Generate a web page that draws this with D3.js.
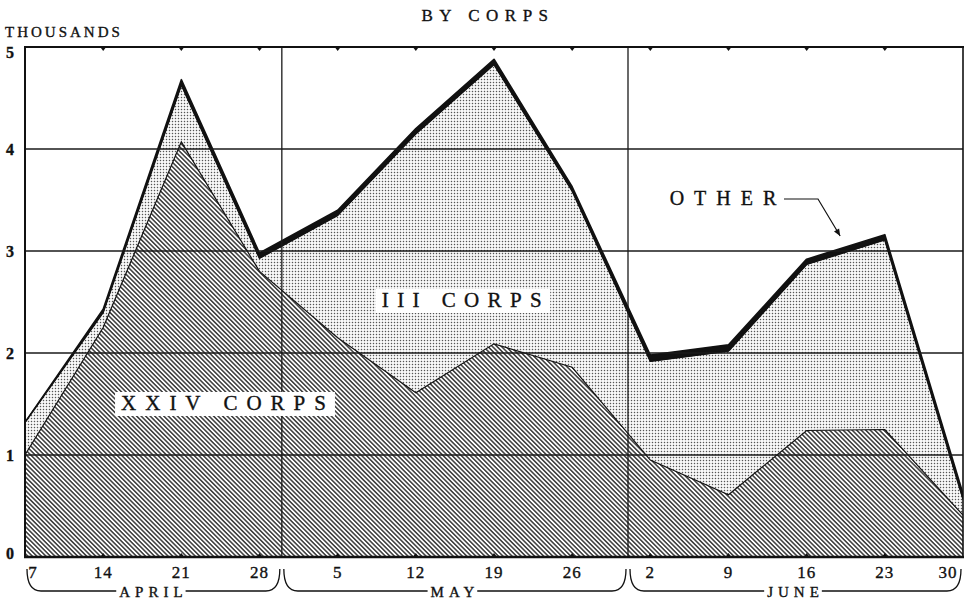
<!DOCTYPE html>
<html>
<head>
<meta charset="utf-8">
<script src="https://cdn.jsdelivr.net/npm/d3@7"></script>
<style>
  body { margin: 0; background: #fff; }
  svg { display: block; }
  text { font-family: "Liberation Serif", "DejaVu Serif", serif; fill: #111; stroke: #111; stroke-width: 0.35px; }
</style>
</head>
<body>
<svg id="chart" width="969" height="603"></svg>
<script>
// Weekly casualties (thousands), Okinawa, April–June 1945
const weeks = ["1945-04-07","1945-04-14","1945-04-21","1945-04-28","1945-05-05","1945-05-12",
               "1945-05-19","1945-05-26","1945-06-02","1945-06-09","1945-06-16","1945-06-23","1945-06-30"];
const weekLabels = ["7","14","21","28","5","12","19","26","2","9","16","23","30"];
const xxivCorps  = [1.00, 2.25, 4.07, 2.80, 2.15, 1.61, 2.09, 1.86, 0.95, 0.61, 1.24, 1.25, 0.41];
const iiiCorps   = [0.32, 0.15, 0.56, 0.13, 1.20, 2.54, 2.74, 1.73, 0.97, 1.41, 1.63, 1.86, 0.16];
const otherUnits = [0.00, 0.03, 0.05, 0.05, 0.05, 0.05, 0.05, 0.04, 0.06, 0.06, 0.05, 0.05, 0.05];
const yTicks = [0, 1, 2, 3, 4, 5];
const gridValues = [1, 2, 3, 4];
const monthNames = ["APRIL", "MAY", "JUNE"];
const monthBreaks = ["1945-04-30", "1945-05-31"];

const parse = d3.timeParse("%Y-%m-%d");
const dates = weeks.map(parse);
const table = dates.map((date, i) => ({
  date, xxiv: xxivCorps[i], iii: iiiCorps[i], other: otherUnits[i]
}));

const svg = d3.select("#chart");
const plotL = 25, plotR = 963, plotT = 47, plotB = 557;

const x = d3.scaleTime().domain([dates[0], dates[dates.length - 1]]).range([plotL, plotR]);
const y = d3.scaleLinear().domain([0, 5]).range([plotB, plotT]);

// fill patterns: diagonal hatching and a fine dot screen
const defs = svg.append("defs");
const hatch = defs.append("pattern")
  .attr("id", "hatch").attr("patternUnits", "userSpaceOnUse")
  .attr("width", 3.2).attr("height", 3.2)
  .attr("patternTransform", "rotate(-45)");
hatch.append("rect").attr("width", 3.2).attr("height", 3.2).attr("fill", "#fff");
hatch.append("line").attr("x1", 0.8).attr("y1", 0).attr("x2", 0.8).attr("y2", 3.2)
  .attr("stroke", "#222").attr("stroke-width", 1.35);

const dots = defs.append("pattern")
  .attr("id", "dots").attr("patternUnits", "userSpaceOnUse")
  .attr("width", 3).attr("height", 3);
dots.append("rect").attr("width", 3).attr("height", 3).attr("fill", "#fff");
dots.append("rect").attr("x", 0.8).attr("y", 0.8).attr("width", 1.4).attr("height", 1.4).attr("fill", "#555");

const clip = defs.append("clipPath").attr("id", "plotClip");
clip.append("rect").attr("x", plotL).attr("y", plotT - 5).attr("width", plotR - plotL).attr("height", plotB - plotT + 5);

// stacked layers
const stack = d3.stack().keys(["xxiv", "iii", "other"]);
const layers = stack(table);

const area = d3.area()
  .x(d => x(d.data.date))
  .y0(d => y(d[0]))
  .y1(d => y(d[1]));
const topLine = d3.line()
  .x(d => x(d.data.date))
  .y(d => y(d[1]));

const plot = svg.append("g").attr("clip-path", "url(#plotClip)");
plot.append("path").datum(layers[0]).attr("d", area).attr("fill", "url(#hatch)");
plot.append("path").datum(layers[1]).attr("d", area).attr("fill", "url(#dots)");
plot.append("path").datum(layers[0]).attr("d", topLine)
  .attr("fill", "none").attr("stroke", "#111").attr("stroke-width", 1.2);
plot.append("path").datum(layers[1]).attr("d", topLine)
  .attr("fill", "none").attr("stroke", "#111").attr("stroke-width", 1.2);
plot.append("path").datum(layers[2]).attr("d", area)
  .attr("fill", "#111").attr("stroke", "#111").attr("stroke-width", 1.6)
  .attr("stroke-linejoin", "round");

// grid
const grid = svg.append("g").attr("stroke", "#1a1a1a").attr("stroke-width", 1.3);
grid.selectAll("line.h").data(gridValues).join("line").attr("class", "h")
  .attr("x1", plotL).attr("x2", plotR)
  .attr("y1", d => y(d)).attr("y2", d => y(d));
grid.selectAll("line.v").data(monthBreaks.map(parse)).join("line").attr("class", "v")
  .attr("x1", d => x(d)).attr("x2", d => x(d))
  .attr("y1", plotT).attr("y2", plotB);

// frame
svg.append("line").attr("x1", plotL).attr("x2", plotL).attr("y1", plotT).attr("y2", plotB)
  .attr("stroke", "#111").attr("stroke-width", 2);
svg.append("line").attr("x1", plotR).attr("x2", plotR).attr("y1", plotT).attr("y2", plotB)
  .attr("stroke", "#111").attr("stroke-width", 1.6);
svg.append("line").attr("x1", plotL - 1).attr("x2", plotR + 1).attr("y1", plotT).attr("y2", plotT)
  .attr("stroke", "#111").attr("stroke-width", 2);
svg.append("line").attr("x1", plotL - 1).attr("x2", plotR + 1).attr("y1", plotB).attr("y2", plotB)
  .attr("stroke", "#111").attr("stroke-width", 2.5);

// week ticks: small notches on top and bottom edges
const innerDates = dates.slice(1, -1);
svg.append("g").selectAll("path").data(innerDates).join("path")
  .attr("d", d => `M${x(d) - 3},${plotT} L${x(d) + 3},${plotT} L${x(d)},${plotT + 4} Z`)
  .attr("fill", "#111");
svg.append("g").selectAll("path").data(innerDates).join("path")
  .attr("d", d => `M${x(d) - 3},${plotB} L${x(d) + 3},${plotB} L${x(d)},${plotB - 4} Z`)
  .attr("fill", "#111");

// y axis labels (top one sits below the frame line, bottom one on it)
const yLabelOffset = d => d === 5 ? 11 : (d === 0 ? 2 : 6);
svg.append("g").selectAll("text").data(yTicks).join("text")
  .attr("x", 10).attr("y", d => y(d) + yLabelOffset(d))
  .attr("text-anchor", "middle")
  .style("font-size", "16px").style("font-weight", "bold")
  .text(d => d);

svg.append("text").attr("x", 5).attr("y", 37)
  .style("font-size", "15px").style("letter-spacing", "3px")
  .text("THOUSANDS");

svg.append("text").attr("x", 488).attr("y", 21).attr("text-anchor", "middle")
  .style("font-size", "17px").style("letter-spacing", "6.5px")
  .text("BY CORPS");

// x axis labels
const labelShift = (i) => i === 0 ? 8 : (i === weekLabels.length - 1 ? -15 : 0);
svg.append("g").selectAll("text").data(dates).join("text")
  .attr("x", (d, i) => x(d) + labelShift(i)).attr("y", 578)
  .attr("text-anchor", "middle")
  .style("font-size", "17px").style("letter-spacing", "1px")
  .text((d, i) => weekLabels[i]);

// month braces
const bounds = [dates[0], ...monthBreaks.map(parse), dates[dates.length - 1]];
const braceTop = 569, braceBot = 591;
const braces = svg.append("g");
monthNames.forEach((name, i) => {
  const a = x(bounds[i]) + 2, b = x(bounds[i + 1]) - 2;
  const mid = (a + b) / 2;
  const t = braces.append("text").attr("x", mid).attr("y", 597).attr("text-anchor", "middle")
    .style("font-size", "15px").style("letter-spacing", "5px").text(name);
  const w = t.node().getComputedTextLength();
  const l0 = mid - w / 2 - 3, l1 = mid + w / 2 - 2;
  braces.append("path")
    .attr("d", `M${a},${braceTop} Q${a},${braceBot} ${a + 14},${braceBot} L${l0},${braceBot}` +
               ` M${l1},${braceBot} L${b - 14},${braceBot} Q${b},${braceBot} ${b},${braceTop}`)
    .attr("fill", "none").attr("stroke", "#111").attr("stroke-width", 1.3);
});

// series labels on white plates
function plateLabel(text, cx, baseline, size, spacing, pad) {
  const g = svg.append("g");
  const rect = g.append("rect").attr("fill", "#fff");
  const t = g.append("text").attr("x", cx).attr("y", baseline).attr("text-anchor", "middle")
    .style("font-size", size + "px").style("letter-spacing", spacing + "px").text(text);
  const bb = t.node().getBBox();
  rect.attr("x", bb.x - pad).attr("y", bb.y + 1).attr("width", bb.width + pad)
    .attr("height", bb.height);
  return g;
}
plateLabel("XXIV CORPS", 228, 410, 21, 9, 6);
plateLabel("III CORPS", 466, 307, 21, 8.4, 6);

svg.append("text").attr("x", 728).attr("y", 205).attr("text-anchor", "middle")
  .style("font-size", "20px").style("letter-spacing", "10px").text("OTHER");

// pointer from the OTHER label to the band
const pointerEnd = [x(parse("1945-06-19")), y(3.03) - 12];
svg.append("path")
  .attr("d", `M784,199 L818,199 L${pointerEnd[0]},${pointerEnd[1]}`)
  .attr("fill", "none").attr("stroke", "#111").attr("stroke-width", 1.2);
const ang = Math.atan2(pointerEnd[1] - 199, pointerEnd[0] - 818);
const ah = 7, aw = 3;
const px = pointerEnd[0], py = pointerEnd[1];
svg.append("path")
  .attr("d", `M${px},${py} L${px - ah * Math.cos(ang) + aw * Math.sin(ang)},${py - ah * Math.sin(ang) - aw * Math.cos(ang)} ` +
             `L${px - ah * Math.cos(ang) - aw * Math.sin(ang)},${py - ah * Math.sin(ang) + aw * Math.cos(ang)} Z`)
  .attr("fill", "#111");
</script>
</body>
</html>
